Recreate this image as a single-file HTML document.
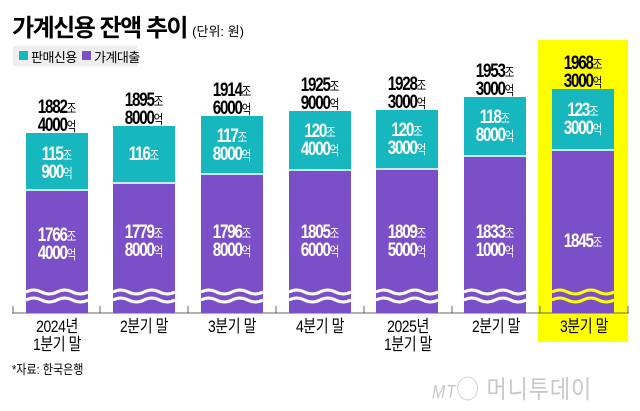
<!DOCTYPE html>
<html><head><meta charset="utf-8"><style>
body{margin:0;width:640px;height:411px;background:#fff;position:relative;overflow:hidden;font-family:"Liberation Sans","Noto Sans CJK KR",sans-serif;}
.a{position:absolute;white-space:nowrap}
.bar{position:absolute;width:62px}
.t{background:#17b7bf}
.p{background:#7a4fc8;border-top:2px solid #c9e8ee}
.lbl{position:absolute;width:90px;text-align:center;font-weight:bold;font-size:19px;line-height:17px;letter-spacing:-1.5px;transform:scaleX(0.8)}
.lbl small{font-size:13px;font-weight:normal;letter-spacing:0}
.w{color:#fff}
.x{position:absolute;width:88px;text-align:center;font-size:17px;line-height:18px;top:318px;transform:scaleX(0.82);letter-spacing:-0.5px}
</style></head><body>
<div class="a" style="left:538px;top:40px;width:90px;height:302px;background:#ffff00"></div>
<div class="a" style="left:12px;top:8px;font-size:24px;font-weight:bold;letter-spacing:-1.5px">가계신용 잔액 추이 <span style="font-size:13px;font-weight:normal;letter-spacing:0">(단위: 원)</span></div>
<div class="a" style="left:13px;top:46px;width:124px;height:20px;background:#eeeeee"></div>
<div class="a" style="left:19px;top:51px;width:9px;height:9px;background:#17b7bf"></div>
<div class="a" style="left:31px;top:47px;font-size:13px;letter-spacing:-0.5px">판매신용</div>
<div class="a" style="left:82px;top:51px;width:9px;height:9px;background:#7a4fc8"></div>
<div class="a" style="left:94px;top:47px;font-size:13px;letter-spacing:-0.5px">가계대출</div>

<svg class="a" style="left:0;top:0" width="640" height="411">
<line x1="12" y1="313" x2="629" y2="313" stroke="#666" stroke-width="1"/>
<g stroke="#666"><line x1="13" y1="306" x2="13" y2="313"/><line x1="100" y1="306" x2="100" y2="313"/><line x1="188" y1="306" x2="188" y2="313"/><line x1="276" y1="306" x2="276" y2="313"/><line x1="364" y1="306" x2="364" y2="313"/><line x1="452" y1="306" x2="452" y2="313"/><line x1="540" y1="306" x2="540" y2="313"/><line x1="628" y1="306" x2="628" y2="313"/></g>
</svg>

<div class="bar t" style="left:26px;top:133px;height:180px"></div><div class="bar p" style="left:26px;top:189px;height:122px"></div>
<div class="bar t" style="left:113px;top:126px;height:187px"></div><div class="bar p" style="left:113px;top:182px;height:129px"></div>
<div class="bar t" style="left:201px;top:116px;height:197px"></div><div class="bar p" style="left:201px;top:173px;height:138px"></div>
<div class="bar t" style="left:289px;top:111px;height:202px"></div><div class="bar p" style="left:289px;top:169px;height:142px"></div>
<div class="bar t" style="left:376px;top:110px;height:203px"></div><div class="bar p" style="left:376px;top:168px;height:143px"></div>
<div class="bar t" style="left:464px;top:97px;height:216px"></div><div class="bar p" style="left:464px;top:155px;height:156px"></div>
<div class="bar t" style="left:552px;top:89px;height:224px"></div><div class="bar p" style="left:552px;top:149px;height:162px"></div>

<svg class="a" style="left:0;top:0" width="640" height="411">
<defs><path id="wv" d="M0 0 q7.75 -4 15.5 0 t15.5 0 t15.5 0 t15.5 0" fill="none" stroke-width="3"/></defs>
<g stroke="#fff">
<use href="#wv" x="26" y="292"/><use href="#wv" x="26" y="300"/>
<use href="#wv" x="113" y="292"/><use href="#wv" x="113" y="300"/>
<use href="#wv" x="201" y="292"/><use href="#wv" x="201" y="300"/>
<use href="#wv" x="289" y="292"/><use href="#wv" x="289" y="300"/>
<use href="#wv" x="376" y="292"/><use href="#wv" x="376" y="300"/>
<use href="#wv" x="464" y="292"/><use href="#wv" x="464" y="300"/>
</g>
<g stroke="#ffff00"><use href="#wv" x="552" y="292"/><use href="#wv" x="552" y="300"/></g>
</svg>

<div class="lbl" style="left:12px;top:99px">1882<small>조</small><br>4000<small>억</small></div>
<div class="lbl" style="left:99px;top:92px">1895<small>조</small><br>8000<small>억</small></div>
<div class="lbl" style="left:187px;top:82px">1914<small>조</small><br>6000<small>억</small></div>
<div class="lbl" style="left:275px;top:77px">1925<small>조</small><br>9000<small>억</small></div>
<div class="lbl" style="left:362px;top:76px">1928<small>조</small><br>3000<small>억</small></div>
<div class="lbl" style="left:450px;top:63px">1953<small>조</small><br>3000<small>억</small></div>
<div class="lbl" style="left:538px;top:55px">1968<small>조</small><br>3000<small>억</small></div>

<div class="lbl w" style="left:12px;top:146px">115<small>조</small><br>900<small>억</small></div>
<div class="lbl w" style="left:99px;top:146px">116<small>조</small></div>
<div class="lbl w" style="left:187px;top:128px">117<small>조</small><br>8000<small>억</small></div>
<div class="lbl w" style="left:275px;top:123px">120<small>조</small><br>4000<small>억</small></div>
<div class="lbl w" style="left:362px;top:122px">120<small>조</small><br>3000<small>억</small></div>
<div class="lbl w" style="left:450px;top:109px">118<small>조</small><br>8000<small>억</small></div>
<div class="lbl w" style="left:538px;top:102px">123<small>조</small><br>3000<small>억</small></div>

<div class="lbl w" style="left:12px;top:227px">1766<small>조</small><br>4000<small>억</small></div>
<div class="lbl w" style="left:99px;top:224px">1779<small>조</small><br>8000<small>억</small></div>
<div class="lbl w" style="left:187px;top:224px">1796<small>조</small><br>8000<small>억</small></div>
<div class="lbl w" style="left:275px;top:224px">1805<small>조</small><br>6000<small>억</small></div>
<div class="lbl w" style="left:362px;top:224px">1809<small>조</small><br>5000<small>억</small></div>
<div class="lbl w" style="left:450px;top:224px">1833<small>조</small><br>1000<small>억</small></div>
<div class="lbl w" style="left:538px;top:233px">1845<small>조</small></div>

<div class="x" style="left:13px">2024년<br>1분기 말</div>
<div class="x" style="left:100px">2분기 말</div>
<div class="x" style="left:188px">3분기 말</div>
<div class="x" style="left:276px">4분기 말</div>
<div class="x" style="left:364px">2025년<br>1분기 말</div>
<div class="x" style="left:452px">2분기 말</div>
<div class="x" style="left:540px">3분기 말</div>

<div class="a" style="left:12px;top:359px;font-size:13px;transform:scaleX(0.85);transform-origin:left">*자료: 한국은행</div>
<div class="a" style="left:432px;top:370px;font-size:25px;color:#c8c8c8;letter-spacing:1px;transform:scaleX(0.88);transform-origin:left"><i style="font-size:18px">MT</i>◯ 머니투데이</div>
</body></html>
